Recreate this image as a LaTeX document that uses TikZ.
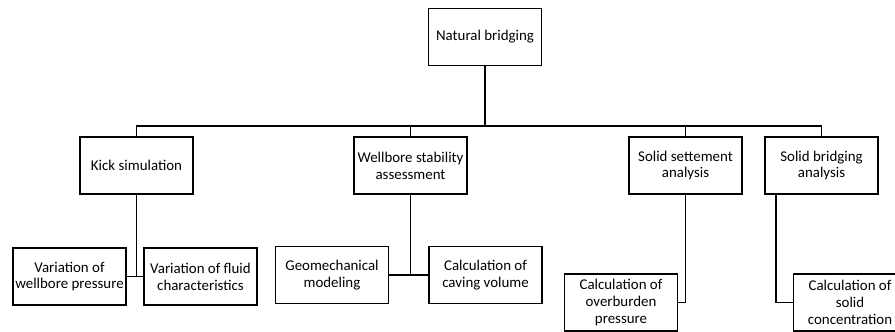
\documentclass[tikz,border=0pt]{standalone}
\usepackage{fontspec}
\setmainfont{Carlito}
\begin{document}
\begin{tikzpicture}[x=0.025cm, y=-0.025cm, line width=1.2pt,
    box/.style={draw, line width=1.2pt, minimum width=2.83cm, minimum height=1.42cm, align=center, inner sep=1pt, font=\fontsize{10.6}{12}\selectfont}]

    \useasboundingbox (0, 0) rectangle (895, 331);

    \node[box] (nat) at (485, 37) {Natural bridging};

    \node[box] (kick) at (136.5, 165.5) {Kick simulation};
    \node[box] (wsa) at (410.5, 165.5) {Wellbore stability\\assessment};
    \node[box] (sset) at (685.5, 165.5) {Solid settement\\analysis};
    \node[box] (sbr) at (821.5, 165.5) {Solid bridging\\analysis};

    \node[box] (vwp) at (69.5, 276.5) {Variation of\\wellbore pressure};
    \node[box] (vfc) at (200.5, 276.5) {Variation of fluid\\characteristics};
    \node[box] (geo) at (332, 275) {Geomechanical\\modeling};
    \node[box] (cav) at (485.5, 275) {Calculation of\\caving volume};
    \node[box] (ovb) at (621, 302.5) {Calculation of\\overburden\\pressure};
    \node[box] (scon) at (850, 302.5) {Calculation of\\solid\\concentration};

    \coordinate (bar) at (485, 126);

    \draw (nat.south) -- (bar);
    \draw (kick.north) |- (bar) -| (sbr.north);
    \draw (wsa.north) -- (wsa.north |- bar);
    \draw (sset.north) -- (sset.north |- bar);

    \draw (kick.south) -- (kick.south |- vwp.east);
    \draw (vwp.east) -- (vfc.west);
    \draw (wsa.south) -- (wsa.south |- geo.east);
    \draw (geo.east) -- (cav.west);
    \draw (sset.south) |- (ovb.east);
    \draw ([xshift=0.3cm]sbr.south west) |- (scon.west);

\end{tikzpicture}
\end{document}
